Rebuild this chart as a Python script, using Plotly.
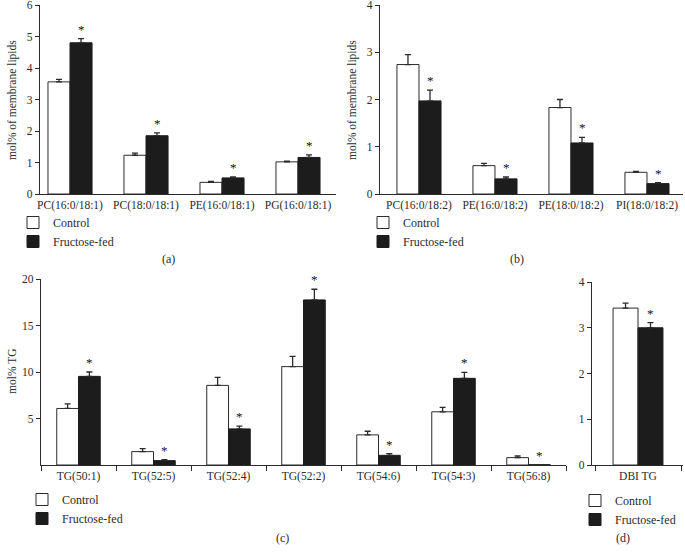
import plotly.graph_objects as go

W, H = 685, 552

# ---------------- data ----------------
a_cats = ["PC(16:0/18:1)", "PC(18:0/18:1)", "PE(16:0/18:1)", "PG(16:0/18:1)"]
a_ctrl = [3.56, 1.23, 0.37, 1.02]
a_ctrl_err = [0.08, 0.07, 0.03, 0.02]
a_fruc = [4.80, 1.85, 0.51, 1.16]
a_fruc_err = [0.13, 0.09, 0.03, 0.08]

b_cats = ["PC(16:0/18:2)", "PE(16:0/18:2)", "PE(18:0/18:2)", "PI(18:0/18:2)"]
b_ctrl = [2.74, 0.60, 1.83, 0.46]
b_ctrl_err = [0.21, 0.05, 0.17, 0.02]
b_fruc = [1.97, 0.32, 1.08, 0.22]
b_fruc_err = [0.23, 0.04, 0.12, 0.02]

c_cats = ["TG(50:1)", "TG(52:5)", "TG(52:4)", "TG(52:2)", "TG(54:6)", "TG(54:3)", "TG(56:8)"]
c_ctrl = [6.08, 1.44, 8.56, 10.58, 3.24, 5.72, 0.79]
c_ctrl_err = [0.50, 0.32, 0.86, 1.11, 0.39, 0.47, 0.18]
c_fruc = [9.53, 0.47, 3.88, 17.75, 1.04, 9.32, 0.03]
c_fruc_err = [0.47, 0.11, 0.29, 1.15, 0.18, 0.64, 0.02]

d_cats = ["DBI TG"]
d_ctrl = [3.43]
d_ctrl_err = [0.11]
d_fruc = [3.00]
d_fruc_err = [0.11]

series_names = ["Control", "Fructose-fed"]
panel_labels = ["(a)", "(b)", "(c)", "(d)"]
y_titles = ["mol% of membrane lipids", "mol% of membrane lipids", "mol% TG"]

# ---------------- style ----------------
FONT = "Liberation Serif"
INK = "#2b2b2b"
DARK = "#1c1c1c"
BARGAP = 0.42


def px_x(p):
    return p / W


def px_y(p):
    return 1 - p / H


fig = go.Figure()

panels = [
    dict(cats=a_cats, ctrl=a_ctrl, ce=a_ctrl_err, fruc=a_fruc, fe=a_fruc_err,
         xa="x", ya="y", legend="legend"),
    dict(cats=b_cats, ctrl=b_ctrl, ce=b_ctrl_err, fruc=b_fruc, fe=b_fruc_err,
         xa="x2", ya="y2", legend="legend2"),
    dict(cats=c_cats, ctrl=c_ctrl, ce=c_ctrl_err, fruc=c_fruc, fe=c_fruc_err,
         xa="x3", ya="y3", legend="legend3"),
    dict(cats=d_cats, ctrl=d_ctrl, ce=d_ctrl_err, fruc=d_fruc, fe=d_fruc_err,
         xa="x4", ya="y4", legend="legend4"),
]

annotations = []
offset = (1 - BARGAP) / 4

for p in panels:
    fig.add_trace(go.Bar(
        x=p["cats"], y=p["ctrl"], name=series_names[0],
        xaxis=p["xa"], yaxis=p["ya"], legend=p["legend"],
        marker=dict(color="white", line=dict(color=INK, width=1)),
        error_y=dict(type="data", array=p["ce"], arrayminus=[0] * len(p["ce"]),
                     symmetric=False, color=INK, thickness=1.3, width=3),
    ))
    fig.add_trace(go.Bar(
        x=p["cats"], y=p["fruc"], name=series_names[1],
        xaxis=p["xa"], yaxis=p["ya"], legend=p["legend"],
        marker=dict(color=DARK, line=dict(color=DARK, width=1)),
        error_y=dict(type="data", array=p["fe"], arrayminus=[0] * len(p["fe"]),
                     symmetric=False, color=INK, thickness=1.3, width=3),
    ))
    for i, (v, e) in enumerate(zip(p["fruc"], p["fe"])):
        annotations.append(dict(
            x=i + offset, y=v + e, xref=p["xa"], yref=p["ya"], text="*",
            showarrow=False, yanchor="bottom", xanchor="center", yshift=0,
            font=dict(family=FONT, size=13, color="#111111")))

# panel labels
for lab, (xp, yp) in zip(panel_labels, [(168, 259), (517, 259), (282, 538), (623, 538)]):
    annotations.append(dict(x=px_x(xp), y=px_y(yp), xref="paper", yref="paper",
                            text=lab, showarrow=False, xanchor="center", yanchor="middle",
                            font=dict(family=FONT, size=12, color=INK)))

# y titles
for t, (xp, yp) in zip(y_titles, [(12, 100), (352, 100), (12, 372)]):
    annotations.append(dict(x=px_x(xp), y=px_y(yp), xref="paper", yref="paper",
                            text=t, showarrow=False, textangle=-90,
                            xanchor="center", yanchor="middle",
                            font=dict(family=FONT, size=11.5, color=INK)))

axis_common = dict(showline=True, linecolor=INK, linewidth=1.2, showgrid=False,
                   zeroline=False, automargin=False, ticklabeloverflow="allow",
                   tickfont=dict(family=FONT, size=11.5, color=INK),
                   fixedrange=True)

yaxis_common = dict(axis_common, ticks="outside", ticklen=4, tickcolor=INK, tickwidth=1.2)

layout = dict(
    template="none",
    width=W, height=H, margin=dict(l=0, r=0, t=0, b=0, pad=0),
    paper_bgcolor="white", plot_bgcolor="white",
    barmode="group", bargap=BARGAP, bargroupgap=0,
    font=dict(family=FONT, size=12, color=INK),
    annotations=annotations,
    xaxis=dict(axis_common, domain=[px_x(40), px_x(336)], range=[-0.395, 3.5],
               anchor="y", ticks=""),
    yaxis=dict(yaxis_common, domain=[px_y(194), px_y(5)], range=[0, 6], dtick=1,
               anchor="x"),
    xaxis2=dict(axis_common, domain=[px_x(380), px_x(683)], range=[-0.513, 3.474],
                anchor="y2", ticks=""),
    yaxis2=dict(yaxis_common, domain=[px_y(194), px_y(5)], range=[0, 4], dtick=1,
                anchor="x2"),
    xaxis3=dict(axis_common, domain=[px_x(41), px_x(566)], range=[-0.5, 6.5],
                anchor="y3", ticks="outside", tickson="boundaries", ticklen=5,
                tickcolor=INK, tickwidth=1.2),
    yaxis3=dict(yaxis_common, domain=[px_y(465), px_y(279)], range=[0, 20],
                tickvals=[5, 10, 15, 20], anchor="x3"),
    xaxis4=dict(axis_common, domain=[px_x(592), px_x(683)], range=[-0.535, 0.523],
                anchor="y4", ticks="outside", tickson="boundaries", ticklen=5,
                tickcolor=INK, tickwidth=1.2),
    yaxis4=dict(yaxis_common, domain=[px_y(465), px_y(282)], range=[0, 4], dtick=1,
                anchor="x4"),
)

for name, (xp, yp) in zip(["legend", "legend2", "legend3", "legend4"],
                          [(13, 208), (363, 208), (22, 485), (575, 486)]):
    layout[name] = dict(
        xanchor="left", yanchor="top", bgcolor="rgba(0,0,0,0)", borderwidth=0,
        font=dict(family=FONT, size=12, color=INK), traceorder="normal",
        itemclick=False, itemdoubleclick=False,
        x=px_x(xp), y=px_y(yp))

fig.update_layout(**layout)
fig.write_html("out.html", config={"displayModeBar": False},
               post_script="document.body.style.margin='0px';document.body.style.overflow='hidden';")
